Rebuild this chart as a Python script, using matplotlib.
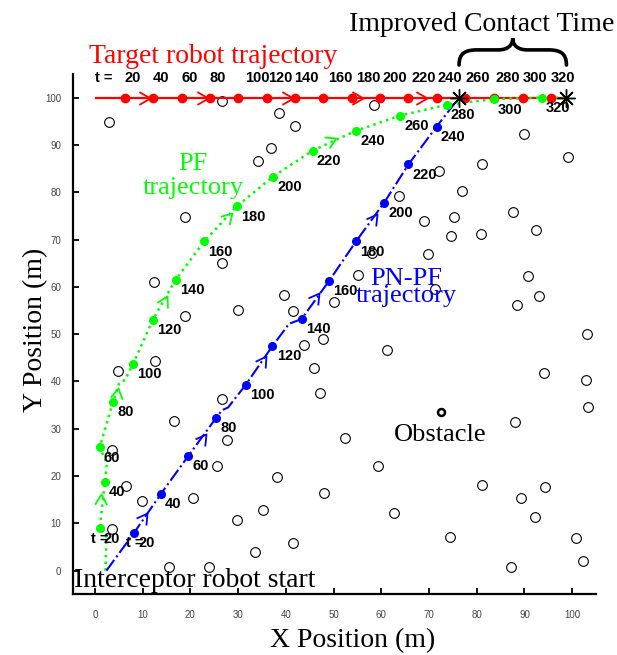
import numpy as np
import matplotlib.pyplot as plt
from matplotlib.markers import MarkerStyle
from matplotlib.path import Path
from matplotlib.patches import PathPatch

plt.rcParams['font.family'] = 'Liberation Serif'

RED = '#ff0000'
GREEN = '#00ff00'
BLUE = '#0000ff'

# ---- target robot (moves along y = 100) ----
t_marks = [20, 40, 60, 80, 100, 120, 140, 160, 180, 200, 220, 240, 260, 280, 300, 320]
target_x = [6.3, 12.2, 18.2, 24.1, 30.0, 36.1, 41.9, 47.8, 53.9, 59.7, 65.6, 71.7,
            77.6, 83.6, 89.7, 95.6]
target_y = [100] * len(target_x)
target_line_x = [0.2, 98.8]
target_line_y = [100, 100]
target_arrow_x = [11.5, 23.7, 41.5, 56.2, 69.6]
top_label_x = [8.0, 13.8, 19.9, 25.8, 34.0, 38.8, 44.4, 51.4, 57.2, 62.9, 68.8, 74.4,
               80.3, 86.4, 92.2, 98.1]

# ---- PF trajectory ----
pf_x = [1.0, 2.1, 1.0, 3.8, 8.0, 12.1, 16.9, 22.9, 29.7, 37.3, 45.6, 54.7, 63.9, 73.7, 83.6, 93.6]
pf_y = [9.0, 18.8, 26.1, 35.7, 43.7, 53.0, 61.5, 69.6, 77.0, 83.3, 88.8, 93.0, 96.2, 98.5, 99.7, 100.0]
pf_path_x = [2.2, 2.4, 1.0, 2.1, 2.5, 1.0, 3.8, 5.1, 6.3, 8.0, 12.1, 16.9, 22.9, 29.7, 37.3,
             45.6, 54.7, 63.9, 73.7, 83.6, 93.6, 98.8]
pf_path_y = [0.0, 7.2, 9.0, 18.8, 22.7, 26.1, 35.7, 39.7, 40.3, 43.7, 53.0, 61.5, 69.6, 77.0,
             83.3, 88.8, 93.0, 96.2, 98.5, 99.7, 100.0, 100.0]
pf_arrow_x = [1.3, 4.9, 15.2, 28.7, 50.5]
pf_arrow_y = [16.2, 38.6, 58.1, 75.7, 91.5]
pf_arrow_ang = [88, 80, 62, 46, 25]

# ---- PN-PF trajectory ----
pn_t = [20, 40, 60, 80, 100, 120, 140, 160, 180, 200, 220, 240]
pn_x = [8.2, 13.8, 19.6, 25.4, 31.6, 37.2, 43.3, 49.1, 54.7, 60.6, 65.7, 71.6]
pn_y = [8.0, 16.2, 24.3, 32.3, 39.3, 47.5, 53.2, 61.3, 69.6, 77.8, 85.9, 93.9]
pn_path_x = [2.4, 8.2, 13.8, 19.6, 25.4, 26.6, 27.9, 31.6, 37.2, 40.7, 43.3, 49.1, 54.7,
             60.6, 65.7, 71.6, 76.3]
pn_path_y = [0.0, 8.0, 16.2, 24.3, 32.3, 33.9, 34.5, 39.3, 47.5, 52.2, 53.2, 61.3, 69.6,
             77.8, 85.9, 93.9, 100.0]
pn_arrow_x = [11.0, 23.2, 35.8, 47.0, 59.2]
pn_arrow_y = [12.1, 28.9, 45.4, 58.6, 75.4]
pn_arrow_ang = [55, 54, 56, 54, 54]

# contact points (PN-PF, PF)
contact_x = [76.3, 98.8]
contact_y = [100, 100]

# ---- obstacles ----
obs_x = [26.6, 3.0, 38.6, 41.9, 58.5, 36.9, 34.2, 18.9, 26.6, 12.4, 18.9, 30.0, 39.6, 41.4,
         50.0, 43.9, 47.7, 89.9, 99.2, 81.1, 72.1, 77.0, 63.8, 87.6, 75.3, 69.0, 92.5, 80.9,
         74.7, 58.0, 69.7, 55.1, 90.7, 71.3, 93.1, 88.5, 103.2, 61.3, 12.6, 4.8, 45.8, 47.2,
         26.6, 16.6, 27.6, 3.5, 25.6, 38.1, 6.6, 47.9, 9.9, 20.6, 3.5, 29.8, 35.3, 33.5, 41.4,
         15.6, 23.8, 94.0, 102.9, 103.3, 88.1, 52.3, 59.3, 81.1, 94.3, 89.3, 62.7, 92.3, 74.5,
         100.8, 87.2, 102.2]
obs_y = [99.3, 94.9, 96.7, 94.1, 98.5, 89.4, 86.6, 74.7, 65.0, 61.1, 53.8, 55.0, 58.3, 54.8,
         56.9, 47.7, 48.9, 92.3, 87.4, 85.9, 84.4, 80.3, 79.3, 75.9, 74.7, 73.9, 72.0, 71.1,
         70.7, 67.1, 66.9, 62.5, 62.4, 59.5, 58.1, 56.2, 50.0, 46.6, 44.4, 42.2, 42.8, 37.5,
         36.2, 31.6, 27.6, 25.4, 22.2, 19.9, 17.9, 16.5, 14.8, 15.3, 8.8, 10.7, 12.8, 4.0, 5.8,
         0.7, 0.7, 41.7, 40.2, 34.5, 31.4, 28.1, 22.2, 18.1, 17.6, 15.3, 12.1, 11.3, 7.2,
         6.8, 0.8, 2.1]
obs_marked = (72.6, 33.6)


def chevron(angle):
    p = Path([(-0.866, 0.5), (0, 0), (-0.866, -0.5)],
             [Path.MOVETO, Path.LINETO, Path.LINETO])
    return MarkerStyle(p).rotated(deg=angle)


fig = plt.figure(figsize=(6.17, 6.55), dpi=100)
ax = fig.add_axes([0.1183, 0.0927, 0.8477, 0.7943])

# obstacles
ax.plot(obs_x, obs_y, 'o', ms=7, mfc='none', mec='black', mew=0.8, zorder=2)
ax.plot(*obs_marked, 'o', ms=5, mfc='none', mec='black', mew=1.8, zorder=2)

# target
ax.plot(target_line_x, target_line_y, '-', color=RED, lw=1.6, zorder=3)
ax.plot(target_x, target_y, 'o', color=RED, ms=6, zorder=4)
for ax_x in target_arrow_x:
    ax.plot(ax_x, 100, marker=chevron(0), ms=16, mfc='none', mec=RED, mew=1.3, zorder=4)

# PF
ax.plot(pf_path_x, pf_path_y, ':', color=GREEN, lw=1.8, zorder=3)
ax.plot(pf_x, pf_y, 'o', color=GREEN, ms=5.5, zorder=5)
for x, y, a in zip(pf_arrow_x, pf_arrow_y, pf_arrow_ang):
    ax.plot(x, y, marker=chevron(a), ms=15, mfc='none', mec=GREEN, mew=1.3, zorder=4)

# PN-PF
ax.plot(pn_path_x, pn_path_y, '-.', color=BLUE, lw=1.5, zorder=3)
ax.plot(pn_x, pn_y, 'o', color=BLUE, ms=5.5, zorder=5)
for x, y, a in zip(pn_arrow_x, pn_arrow_y, pn_arrow_ang):
    ax.plot(x, y, marker=chevron(a), ms=15, mfc='none', mec=BLUE, mew=1.3, zorder=4)

# contact points
ax.plot(contact_x, contact_y, linestyle='none', marker=(8, 2, 0), ms=13, mec='black',
        mew=1.0, zorder=6)

# time labels
lbl = dict(fontfamily='Liberation Sans', fontweight='bold', fontsize=10.5,
           textcoords='offset points', ha='left', va='top', zorder=7)
for i, t in enumerate(t_marks):
    ax.annotate(str(t), (pf_x[i], pf_y[i]), xytext=(3, -2.5), **lbl)
for i, t in enumerate(pn_t):
    ax.annotate(str(t), (pn_x[i], pn_y[i]), xytext=(3, -2.5), **lbl)
ax.annotate('t =', (pf_x[0], pf_y[0]), xytext=(-6, -2.5), **lbl)
ax.annotate('t =', (pn_x[0], pn_y[0]), xytext=(-6, -2.5), **lbl)

top = dict(fontfamily='Liberation Sans', fontweight='bold', fontsize=10.5,
           ha='center', va='center', clip_on=False)
ax.text(1.9, 104.2, 't =', **top)
for x, t in zip(top_label_x, t_marks):
    ax.text(x, 104.2, str(t), **top)

# brace over the improved contact time
bx0, bx1 = contact_x
bm = (bx0 + bx1) / 2
verts = [(bx0, 106.9), (bx0, 109.5), (bx0 + 1.4, 110.1), (bx0 + 3.9, 110.1),
         (bm - 3.1, 110.1),
         (bm - 1.1, 110.1), (bm, 111.0), (bm, 112.6),
         (bm, 111.0), (bm + 1.1, 110.1), (bm + 3.1, 110.1),
         (bx1 - 3.9, 110.1),
         (bx1 - 1.4, 110.1), (bx1, 109.5), (bx1, 106.9)]
codes = [Path.MOVETO, Path.CURVE4, Path.CURVE4, Path.CURVE4, Path.LINETO,
         Path.CURVE4, Path.CURVE4, Path.CURVE4, Path.CURVE4, Path.CURVE4, Path.CURVE4,
         Path.LINETO, Path.CURVE4, Path.CURVE4, Path.CURVE4]
ax.add_patch(PathPatch(Path(verts, codes), fill=False, lw=2.6, color='black',
                       clip_on=False, capstyle='round'))

# annotations in serif
ax.text(20.5, 84.7, 'PF', color=GREEN, fontsize=19, ha='center', va='baseline')
ax.text(20.6, 79.6, 'trajectory', color=GREEN, fontsize=19, ha='center', va='baseline')
ax.text(65.3, 60.3, 'PN-PF', color=BLUE, fontsize=19, ha='center', va='baseline')
ax.text(65.2, 56.9, 'trajectory', color=BLUE, fontsize=19, ha='center', va='baseline')
ax.text(72.3, 27.5, 'Obstacle', color='black', fontsize=19, ha='center', va='baseline')
ax.text(-4.3, -3.4, 'Interceptor robot start', color='black', fontsize=20, ha='left',
        va='baseline', clip_on=False, zorder=8)

fig.text(0.345, 0.904, 'Target robot trajectory', color=RED, fontsize=20, ha='center',
         va='baseline')
fig.text(0.780, 0.953, 'Improved Contact Time', color='black', fontsize=20, ha='center',
         va='baseline')
fig.text(0.572, 0.0115, 'X Position (m)', fontsize=20, ha='center', va='baseline')
fig.text(0.058, 0.496, 'Y Position (m)', fontsize=20, ha='center', va='center', rotation=90)

# axes styling
ax.set_xlim(-4.6, 105)
ax.set_ylim(-5.0, 105)
ax.set_xticks(np.arange(0, 101, 10))
ax.set_yticks(np.arange(0, 101, 10))
for s in ['top', 'right']:
    ax.spines[s].set_visible(False)
for s in ['left', 'bottom']:
    ax.spines[s].set_linewidth(1.6)
ax.tick_params(direction='in', length=4, width=1.3, labelsize=7, labelcolor='#444444')
ax.tick_params(axis='x', pad=11)
ax.tick_params(axis='y', pad=8.5)
for lab in ax.get_xticklabels() + ax.get_yticklabels():
    lab.set_fontfamily('Liberation Sans')

fig.savefig('out.png', dpi=100)
